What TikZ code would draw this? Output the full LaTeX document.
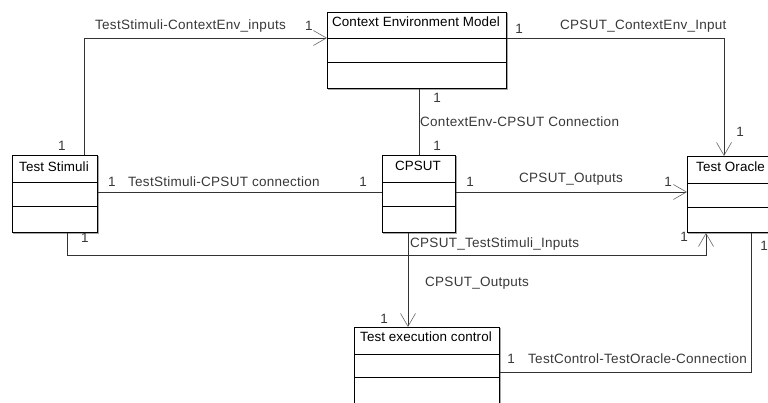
\documentclass[tikz,border=0pt]{standalone}
\usepackage{fontspec}
\setmainfont{Liberation Sans}
\newfontfamily\labelfont[LetterSpace=2]{Liberation Sans}
\newfontfamily\titlefont[LetterSpace=0.8]{Liberation Sans}
\usetikzlibrary{arrows.meta}
\tikzset{
  umlbox/.style={draw=black, line width=0.9pt, fill=white, rectangle, inner sep=0pt, anchor=north west},
  shadowbox/.style={draw=black!35, line width=0.8pt},
  divider/.style={draw=black, line width=0.9pt},
  title/.style={font=\titlefont\fontsize{13.4}{15}\selectfont, text=black, inner sep=0pt},
  lbl/.style={font=\labelfont\fontsize{13.5}{15}\selectfont, text=black!78, inner sep=0pt, anchor=west},
  mult/.style={font=\labelfont\fontsize{13.5}{15}\selectfont, text=black!78, inner sep=0pt},
  conn/.style={draw=black!80, line width=0.8pt},
  openarrow/.style={-{Straight Barb[length=13pt, width=15pt, line width=0.6pt, color=black!60]}},
}
\begin{document}
\begin{tikzpicture}[x=1pt, y=-1pt]
\useasboundingbox (0,0) rectangle (768,403);

% class boxes: soft shadow first, then the frame
\foreach \a/\b/\c/\d in {327/12/506/88, 12/155/97/232, 382/155/455/232, 687/156/800/232, 354/327/499/420}
  \draw[shadowbox] (\a+1.5,\b+1.5) rectangle (\c+1.5,\d+1.5);

\node[umlbox, minimum width=179pt, minimum height=76pt] (ctx) at (327,12) {};
\node[umlbox, minimum width=85pt,  minimum height=77pt] (ts)  at (12,155) {};
\node[umlbox, minimum width=73pt,  minimum height=77pt] (sut) at (382,155) {};
\node[umlbox, minimum width=113pt, minimum height=76pt] (orc) at (687,156) {};
\node[umlbox, minimum width=145pt, minimum height=93pt] (tec) at (354,327) {};

% compartment dividers
\draw[divider] (ctx.west |- 0,38) -- (ctx.east |- 0,38);
\draw[divider] (ctx.west |- 0,62) -- (ctx.east |- 0,62);
\draw[divider] (ts.west |- 0,182) -- (ts.east |- 0,182);
\draw[divider] (ts.west |- 0,206) -- (ts.east |- 0,206);
\draw[divider] (sut.west |- 0,182) -- (sut.east |- 0,182);
\draw[divider] (sut.west |- 0,206) -- (sut.east |- 0,206);
\draw[divider] (orc.west |- 0,183) -- (orc.east |- 0,183);
\draw[divider] (orc.west |- 0,207) -- (orc.east |- 0,207);
\draw[divider] (tec.west |- 0,354) -- (tec.east |- 0,354);
\draw[divider] (tec.west |- 0,377) -- (tec.east |- 0,377);

% class names
\node[title] (tctx) at (416,22) {Context Environment Model};
\node[title] (tts)  at (54,167) {Test Stimuli};
\node[title] (tsut) at (418,166) {CPSUT};
\node[title, anchor=west] (torc) at (696,167) {Test Oracle};
\node[title] (ttec) at (426,337) {Test execution control};

% associations
\draw[conn, openarrow] (ts.north west -| 84,0) |- (ctx.west |- 0,38);
\draw[conn, openarrow] (ctx.east |- 0,38) -| (orc.north west -| 724,0);
\draw[conn] (ctx.south west -| 419,0) -- (sut.north west -| 419,0);
\draw[conn] (ts.east |- 0,192) -- (sut.west |- 0,192);
\draw[conn, openarrow] (sut.east |- 0,192) -- (orc.west |- 0,192);
\draw[conn, openarrow] (ts.south west -| 67,0) -- (67,255) -- (706,255) -- (orc.south west -| 706,0);
\draw[conn, openarrow] (sut.south west -| 408,0) -- (tec.north west -| 408,0);
\draw[conn] (tec.east |- 0,372) -| (orc.south west -| 751,0);

% association names
\node[lbl] (l1) at (95,26) {TestStimuli-ContextEnv\_inputs};
\node[lbl] (l2) at (560,26) {CPSUT\_ContextEnv\_Input};
\node[lbl] (l3) at (420,122) {ContextEnv-CPSUT Connection};
\node[lbl] (l4) at (128,182) {TestStimuli-CPSUT connection};
\node[lbl] (l5) at (519,179) {CPSUT\_Outputs};
\node[lbl] (l6) at (410,244) {CPSUT\_TestStimuli\_Inputs};
\node[lbl] (l7) at (425,283) {CPSUT\_Outputs};
\node[lbl] (l8) at (528,359) {TestControl-TestOracle-Connection};

% multiplicities
\foreach \x/\y [count=\i] in {309/26, 62/146, 519/29, 740/132, 437/98, 437/146,
    112/182, 363/182, 470/182, 668/182, 85/238, 684/237, 764/246, 384/319, 511/359}
  \node[mult] (m\i) at (\x,\y) {1};
\end{tikzpicture}
\end{document}
